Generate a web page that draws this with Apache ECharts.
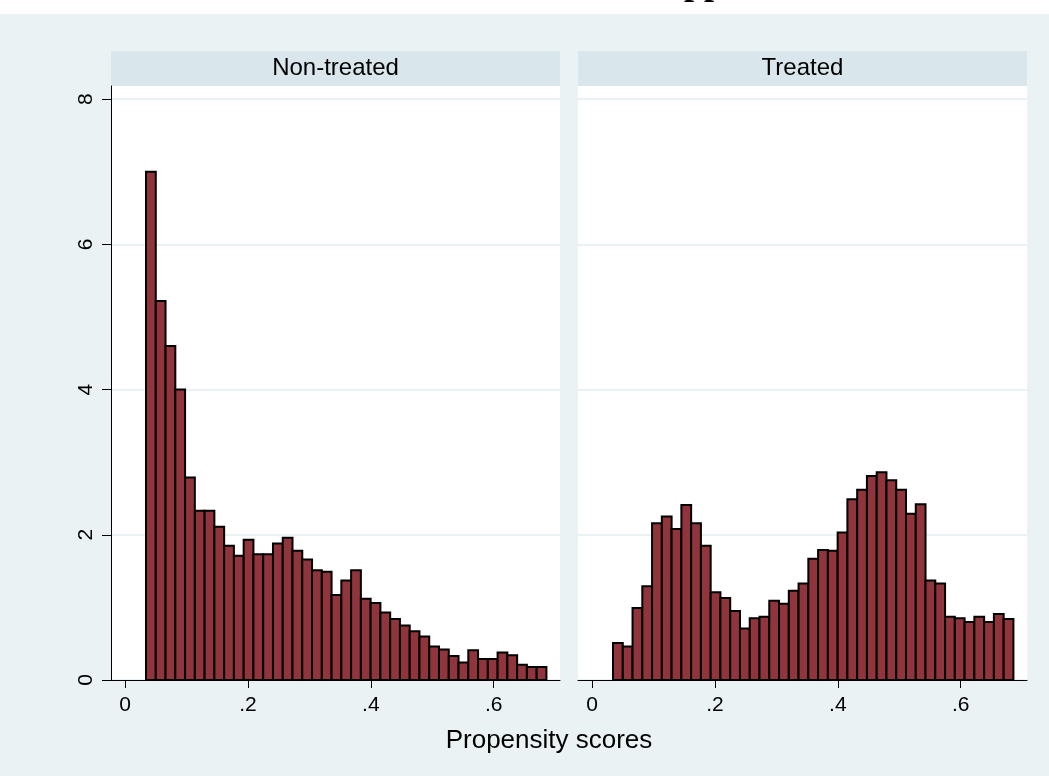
<!DOCTYPE html>
<html>
<head>
<meta charset="utf-8">
<script src="https://cdn.jsdelivr.net/npm/echarts@6/dist/echarts.min.js"></script>
<style>
  html, body { margin: 0; padding: 0; background: #ffffff; }
  #chart { width: 1049px; height: 776px; }
</style>
</head>
<body>
<div id="chart"></div>
<script>
// Panel labels, axis labels and title
const panelTitles = ['Non-treated', 'Treated'];
const xAxisTitle = 'Propensity scores';
const graphTitle = 'Common support';
const xTickValues = [0, 0.2, 0.4, 0.6];
const yTickValues = [0, 2, 4, 6, 8];

// Histogram bins (start of first bin and common bin width)
const binStart = 0.034;
const binWidth = 0.0159;

// Density per bin
const nonTreated = [7.00, 5.22, 4.60, 4.00, 2.79, 2.33, 2.33, 2.11, 1.85, 1.71,
                    1.93, 1.73, 1.73, 1.88, 1.96, 1.78, 1.66, 1.51, 1.49, 1.17,
                    1.37, 1.51, 1.12, 1.06, 0.93, 0.84, 0.75, 0.67, 0.60, 0.46,
                    0.42, 0.33, 0.24, 0.41, 0.29, 0.29, 0.38, 0.34, 0.21, 0.18,
                    0.18];
const treated = [0.51, 0.46, 0.99, 1.29, 2.16, 2.25, 2.08, 2.41, 2.16, 1.85,
                 1.21, 1.13, 0.95, 0.71, 0.85, 0.87, 1.09, 1.05, 1.23, 1.33,
                 1.67, 1.79, 1.78, 2.03, 2.49, 2.62, 2.81, 2.86, 2.75, 2.62,
                 2.29, 2.42, 1.37, 1.33, 0.87, 0.85, 0.80, 0.87, 0.80, 0.91,
                 0.84];

// Layout
const X_MIN = -0.023, X_MAX = 0.708, Y_MAX = 8.18;
const PLOT_TOP = 86, PLOT_H = 594, PLOT_W = 449;
const PANEL_LEFT = [111, 578];
const HEADER_TOP = 51, HEADER_H = 35;
const BAR_FILL = '#90353B';
const BG = '#EAF2F3';
const HEADER_BG = '#D9E6EB';
const FONT = 'Liberation Sans, Arial, sans-serif';

function toBins(values) {
  return values.map((d, i) => [binStart + i * binWidth, binStart + (i + 1) * binWidth, d]);
}

function renderBin(params, api) {
  const p0 = api.coord([api.value(0), 0]);
  const p1 = api.coord([api.value(1), api.value(2)]);
  return {
    type: 'rect',
    shape: { x: p0[0], y: p1[1], width: p1[0] - p0[0], height: p0[1] - p1[1] },
    style: { fill: BAR_FILL, stroke: '#000000', lineWidth: 2 }
  };
}

function fmtX(v) {
  if (v === 0) return '0';
  return String(+v.toFixed(2)).replace(/^0/, '');
}

const chart = echarts.init(document.getElementById('chart'), null, { renderer: 'canvas' });

const grids = PANEL_LEFT.map(left => ({
  left: left, top: PLOT_TOP, width: PLOT_W, height: PLOT_H,
  show: true, backgroundColor: '#ffffff', borderWidth: 0
}));

const xAxes = PANEL_LEFT.map((_, i) => ({
  type: 'value', gridIndex: i, min: X_MIN, max: X_MAX,
  axisLine: { show: true, onZero: false, lineStyle: { color: '#000000', width: 1 } },
  axisTick: { show: true, customValues: xTickValues, length: 8, lineStyle: { color: '#000000', width: 1 } },
  axisLabel: { customValues: xTickValues, formatter: fmtX, fontSize: 21, color: '#000000', fontFamily: FONT, margin: 15 },
  splitLine: { show: false }
}));

const yAxes = PANEL_LEFT.map((_, i) => ({
  type: 'value', gridIndex: i, min: 0, max: Y_MAX, interval: 2,
  axisLine: { show: i === 0, onZero: false, lineStyle: { color: '#000000', width: 1 } },
  axisTick: { show: i === 0, customValues: yTickValues, length: 9, lineStyle: { color: '#000000', width: 1 } },
  axisLabel: { show: i === 0, rotate: 90, showMaxLabel: false, fontSize: 21, color: '#000000', fontFamily: FONT, margin: 14 },
  splitLine: { show: true, lineStyle: { color: BG, width: 2 } }
}));

const graphic = [
  { type: 'rect', shape: { x: 0, y: 0, width: 1049, height: 14 }, style: { fill: '#ffffff' }, z: -10 },
  { type: 'text', x: 499, y: -15,
    style: { text: graphTitle, fill: '#000000', font: 'bold 36px "Liberation Serif", "Times New Roman", serif',
             textAlign: 'left', textVerticalAlign: 'middle' } },
  { type: 'text', x: 549, y: 741,
    style: { text: xAxisTitle, fill: '#000000', font: '26px ' + FONT, textAlign: 'center', textVerticalAlign: 'middle' } }
];
PANEL_LEFT.forEach((left, i) => {
  graphic.push({ type: 'rect', shape: { x: left, y: HEADER_TOP, width: PLOT_W, height: HEADER_H }, style: { fill: HEADER_BG } });
  graphic.push({ type: 'text', x: left + PLOT_W / 2, y: HEADER_TOP + HEADER_H / 2,
    style: { text: panelTitles[i], fill: '#000000', font: '24px ' + FONT, textAlign: 'center', textVerticalAlign: 'middle' } });
});

chart.setOption({
  backgroundColor: BG,
  animation: false,
  grid: grids,
  xAxis: xAxes,
  yAxis: yAxes,
  graphic: graphic,
  series: [nonTreated, treated].map((vals, i) => ({
    type: 'custom', name: panelTitles[i], xAxisIndex: i, yAxisIndex: i,
    renderItem: renderBin, encode: { x: [0, 1], y: 2 },
    data: toBins(vals)
  }))
});
</script>
</body>
</html>
